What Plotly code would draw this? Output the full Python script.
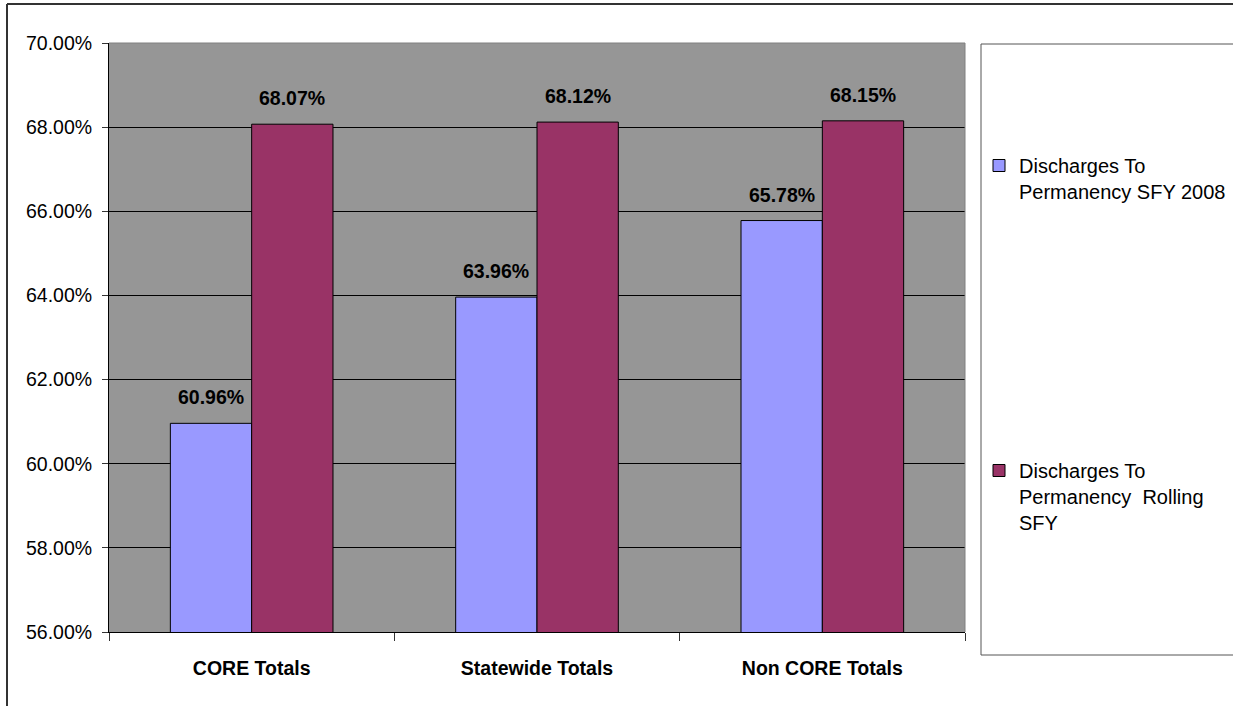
import plotly.graph_objects as go

categories = ["CORE Totals", "Statewide Totals", "Non CORE Totals"]
sfy2008 = [60.96, 63.96, 65.78]
rolling = [68.07, 68.12, 68.15]
series_names = ["Discharges To<br>Permanency SFY 2008",
                "Discharges To<br>Permanency\u00a0 Rolling<br>SFY"]
y_ticks = [56, 58, 60, 62, 64, 66, 68, 70]

W, H = 1233, 706
L, R, T, B = 109, 965, 43, 632
pw, ph = R - L, B - T

def px_x(px):
    return (px - L) / pw

def px_y(py):
    return (B - py) / ph

FONT = "Liberation Sans, Arial, sans-serif"

fig = go.Figure()
fig.add_trace(go.Bar(x=categories, y=sfy2008, name=series_names[0],
                     marker=dict(color="#9999FF", line=dict(color="black", width=1)),
                     legendgroup="a"))
fig.add_trace(go.Bar(x=categories, y=rolling, name=series_names[1],
                     marker=dict(color="#993366", line=dict(color="black", width=1)),
                     legendgroup="b"))

bargap = 0.43
cat_w = pw / len(categories)
bar_w = cat_w * (1 - bargap) / 2
annotations = []
for i, c in enumerate(categories):
    for vals, sh in ((sfy2008, -bar_w / 2), (rolling, bar_w / 2)):
        annotations.append(dict(x=c, y=vals[i], xref="x", yref="y",
                                text=f"{vals[i]:.2f}%", showarrow=False,
                                xshift=sh, yshift=26, yanchor="middle",
                                font=dict(family=FONT, size=19.5, color="black", weight="bold")))

shapes = [
    # outer chart border (top & left)
    dict(type="line", xref="paper", yref="paper", x0=px_x(7), x1=px_x(1240),
         y0=px_y(4), y1=px_y(4), line=dict(color="#333333", width=2)),
    dict(type="line", xref="paper", yref="paper", x0=px_x(7), x1=px_x(7),
         y0=px_y(4), y1=px_y(712), line=dict(color="#333333", width=2)),
    # legend box
    dict(type="rect", xref="paper", yref="paper", x0=px_x(981), x1=px_x(1240),
         y0=px_y(655), y1=px_y(44), line=dict(color="#555555", width=1)),
    # plot area top & right border
    dict(type="line", xref="paper", yref="paper", x0=0, x1=1, y0=1, y1=1,
         line=dict(color="#808080", width=1)),
    dict(type="line", xref="paper", yref="paper", x0=1, x1=1, y0=0, y1=1,
         line=dict(color="#808080", width=1)),
]

fig.update_layout(
    width=W, height=H,
    margin=dict(l=L, r=W - R, t=T, b=H - B, autoexpand=False),
    paper_bgcolor="white", plot_bgcolor="#969696",
    barmode="group", bargap=bargap, bargroupgap=0,
    font=dict(family=FONT, color="black"),
    showlegend=True,
    legend=dict(x=px_x(979), y=px_y(146), xanchor="left", yanchor="top",
                xref="paper", yref="paper",
                font=dict(family=FONT, size=20, color="black"),
                bgcolor="rgba(0,0,0,0)", borderwidth=0,
                traceorder="grouped", tracegroupgap=250, valign="top"),
    xaxis=dict(type="category", showgrid=False, showline=True, linecolor="black",
               linewidth=1, ticks="outside", tickson="boundaries", ticklen=8,
               tickcolor="#333333", ticklabelstandoff=19,
               tickfont=dict(family=FONT, size=19.5, color="black", weight="bold")),
    yaxis=dict(range=[56, 70], tickvals=y_ticks, ticktext=[f"{v:.2f}%" for v in y_ticks],
               showgrid=True, gridcolor="black", gridwidth=1,
               showline=True, linecolor="black", linewidth=1,
               ticks="outside", ticklen=6, tickcolor="#333333",
               ticklabelstandoff=6, zeroline=False,
               tickfont=dict(family=FONT, size=19.5, color="black")),
    annotations=annotations,
    shapes=shapes,
)

fig.write_html("out.html", config={"displayModeBar": False},
               post_script="document.body.style.margin='0';document.body.style.overflow='hidden';")
